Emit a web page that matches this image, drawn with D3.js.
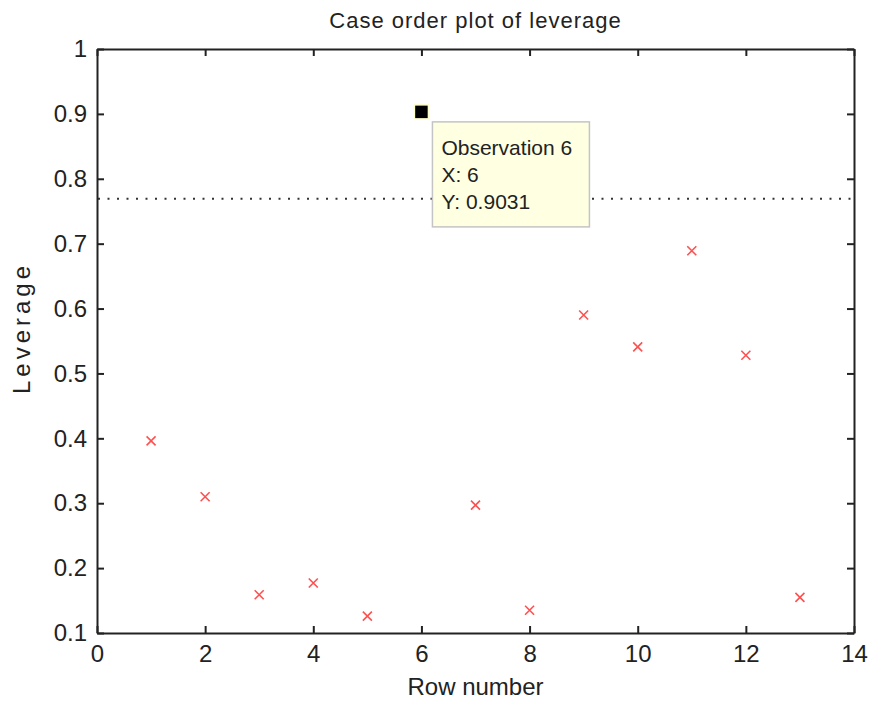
<html>
<head>
    <meta charset="UTF-8">
    <title>Case order plot of leverage</title>
    <script src="https://d3js.org/d3.v7.min.js"></script>
    <style>
        body { margin: 0; background: #fff; }
        text { font-family: "Liberation Sans", Arial, sans-serif; fill: #222; }
        .axis path, .axis line { stroke: #222; stroke-width: 2px; }
        .axis text { font-size: 24px; }
    </style>
</head>
<body>
    <svg width="875" height="703"></svg>
    <script>
        // leverage per row (Hald data)
        var rows = [1, 2, 3, 4, 5, 6, 7, 8, 9, 10, 11, 12, 13];
        var leverage = [0.396, 0.310, 0.159, 0.177, 0.126, 0.9031, 0.297, 0.135, 0.590, 0.541, 0.689, 0.528, 0.155];
        var cutoff = 10 / 13;          // 2p/n reference line
        var selected = 6;              // highlighted observation
        var xTicks = [0, 2, 4, 6, 8, 10, 12, 14];
        var yTicks = [0.1, 0.2, 0.3, 0.4, 0.5, 0.6, 0.7, 0.8, 0.9, 1];
        var tipLines = ['Observation 6', 'X: 6', 'Y: 0.9031'];

        var margin = { top: 49, right: 21, bottom: 70, left: 97 },
            svg = d3.select('svg'),
            width = +svg.attr('width') - margin.left - margin.right,
            height = +svg.attr('height') - margin.top - margin.bottom,
            g = svg.append('g').attr('transform', 'translate(' + margin.left + ',' + margin.top + ')');

        var x = d3.scaleLinear().domain([0, 14]).range([0, width]),
            y = d3.scaleLinear().domain([0.1, 1]).range([height, 0]);

        var data = rows.map(function (r, i) { return { row: r, lev: leverage[i] }; });

        // dotted cutoff line (drawn first so the frame sits on top)
        g.append('line')
            .attr('x1', 1).attr('x2', width)
            .attr('y1', y(cutoff)).attr('y2', y(cutoff))
            .attr('stroke', '#333').attr('stroke-width', 2)
            .attr('stroke-dasharray', '2,7.5');

        // axes, ticks pointing inward, full box
        g.append('g').attr('class', 'axis')
            .attr('transform', 'translate(0,' + height + ')')
            .call(d3.axisBottom(x).tickValues(xTicks).tickSizeInner(-7).tickSizeOuter(0).tickPadding(12));
        g.append('g').attr('class', 'axis')
            .call(d3.axisLeft(y).tickValues(yTicks).tickSizeInner(-7).tickSizeOuter(0).tickPadding(10)
                .tickFormat(function (d) { return d === 1 ? '1' : d.toFixed(1); }));
        g.append('g').attr('class', 'axis')
            .call(d3.axisTop(x).tickValues(xTicks).tickSizeInner(-7).tickSizeOuter(0).tickFormat(''));
        g.append('g').attr('class', 'axis')
            .attr('transform', 'translate(' + width + ',0)')
            .call(d3.axisRight(y).tickValues(yTicks).tickSizeInner(-7).tickSizeOuter(0).tickFormat(''));
        g.selectAll('.axis text').attr('fill', '#222').style('fill', '#222');

        // red x markers
        var s = 4.5;
        g.selectAll('.pt').data(data.filter(function (d) { return d.row !== selected; }))
            .enter().append('path').attr('class', 'pt')
            .attr('transform', function (d) { return 'translate(' + x(d.row) + ',' + y(d.lev) + ')'; })
            .attr('d', 'M' + (-s) + ',' + (-s) + 'L' + s + ',' + s + 'M' + (-s) + ',' + s + 'L' + s + ',' + (-s))
            .attr('stroke', '#ff5050').attr('stroke-width', 1.6).attr('fill', 'none');

        // highlighted point and its data tip
        var sel = data.filter(function (d) { return d.row === selected; })[0];
        g.append('rect')
            .attr('x', x(sel.row) - 7).attr('y', y(sel.lev) - 7)
            .attr('width', 14).attr('height', 14)
            .attr('fill', '#000').attr('stroke', '#ffffcc').attr('stroke-width', 1.5);

        var tip = g.append('g')
            .attr('transform', 'translate(' + (x(sel.row) + 11) + ',' + (y(sel.lev) + 10) + ')');
        tip.append('rect')
            .attr('width', 157).attr('height', 105)
            .attr('fill', '#ffffe1').attr('stroke', '#c4c4c4').attr('stroke-width', 1.5);
        tip.selectAll('text').data(tipLines).enter().append('text')
            .attr('x', 9).attr('y', function (d, i) { return 33 + i * 27; })
            .style('font-size', '21px')
            .text(function (d) { return d; });

        // title and axis labels
        svg.append('text')
            .attr('x', margin.left + width / 2).attr('y', 28)
            .attr('text-anchor', 'middle').style('font-size', '22px').style('letter-spacing', '1px')
            .text('Case order plot of leverage');
        svg.append('text')
            .attr('x', margin.left + width / 2).attr('y', 695)
            .attr('text-anchor', 'middle').style('font-size', '24px')
            .text('Row number');
        svg.append('text')
            .attr('transform', 'translate(30,328) rotate(-90)')
            .attr('text-anchor', 'middle').style('font-size', '24px').style('letter-spacing', '4px')
            .text('Leverage');
    </script>
</body>
</html>
